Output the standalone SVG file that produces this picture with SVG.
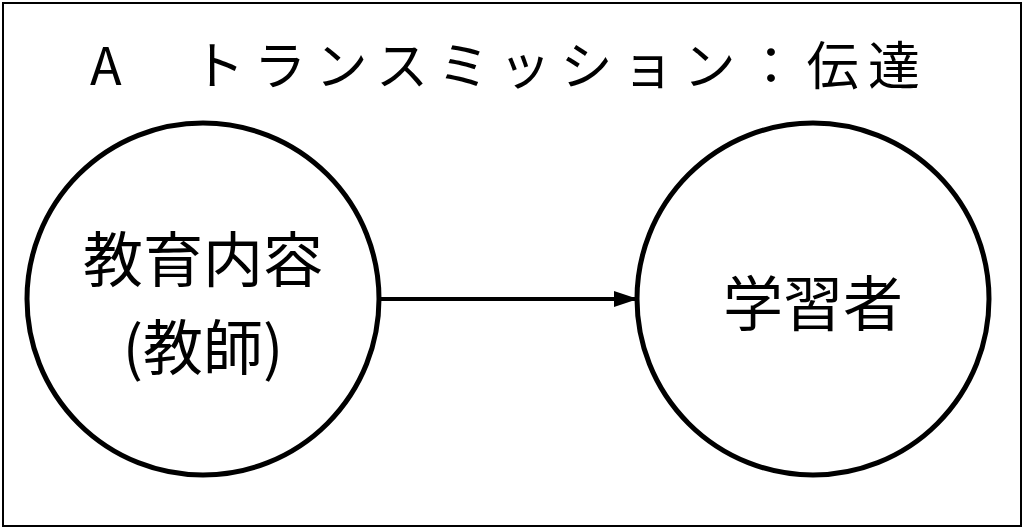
<svg xmlns="http://www.w3.org/2000/svg" width="1024" height="531" viewBox="0 0 1024 531">
<style>
text{font-family:"Noto Sans CJK JP","Liberation Sans",sans-serif;fill:#000}
.n{fill:#fff;stroke:#000;stroke-width:5}
</style>
<defs><marker id="a" markerWidth="24" markerHeight="16" refX="22" refY="8" orient="auto" markerUnits="userSpaceOnUse"><path d="M0,0L24,8L0,16z"/></marker></defs>
<rect x="3" y="3" width="1018" height="523" fill="#fff" stroke="#000" stroke-width="2"/>
<text x="90" y="85" font-size="52" textLength="830" lengthAdjust="spacing">A　トランスミッション：伝達</text>
<g id="edges"><line x1="379" y1="299" x2="636" y2="299" stroke="#000" stroke-width="4" marker-end="url(#a)"/></g>
<g id="n1"><circle class="n" cx="203" cy="299" r="176"/><text x="203" y="282" font-size="60" text-anchor="middle">教育内容</text><text x="203" y="370" font-size="60" text-anchor="middle">(教師)</text></g>
<g id="n2"><circle class="n" cx="813" cy="299" r="176"/><text x="813" y="326" font-size="60" text-anchor="middle">学習者</text></g>
</svg>
